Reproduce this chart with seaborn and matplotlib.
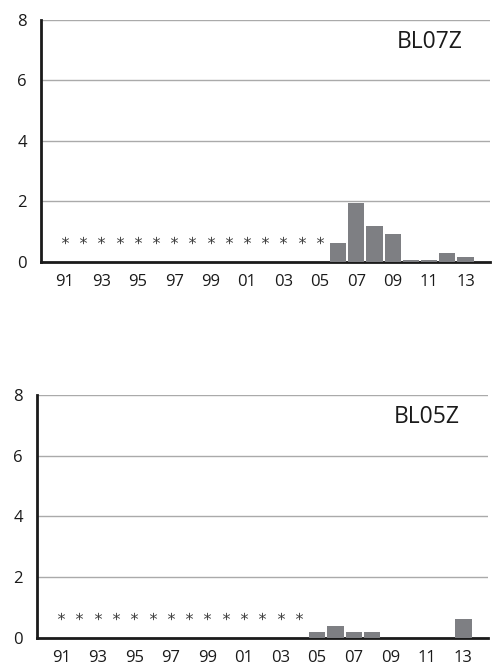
import numpy as np
import matplotlib.pyplot as plt
import seaborn as sns
import pandas as pd

# years 1991-2013, two-digit labels
years = ['91', '92', '93', '94', '95', '96', '97', '98', '99', '00', '01', '02',
         '03', '04', '05', '06', '07', '08', '09', '10', '11', '12', '13']

# BL07Z: no data (asterisk) 91-05
bl07z_missing = years[:15]
bl07z_values = [0, 0, 0, 0, 0, 0, 0, 0, 0, 0, 0, 0, 0, 0, 0,
                0.64, 1.95, 1.18, 0.91, 0.07, 0.07, 0.30, 0.15]

# BL05Z: no data (asterisk) 91-04
bl05z_missing = years[:14]
bl05z_values = [0, 0, 0, 0, 0, 0, 0, 0, 0, 0, 0, 0, 0, 0,
                0.19, 0.39, 0.19, 0.19, 0, 0, 0, 0, 0.61]

star_level = 0.73
bar_color = '#7e7f83'

sns.set_style('white')
plt.rcParams['font.family'] = ['Open Sans', 'DejaVu Sans']

fig = plt.figure(figsize=(4.95, 6.68), dpi=100)
ax_top = fig.add_axes([0.0828, 0.6078, 0.9072, 0.3630])
ax_bot = fig.add_axes([0.0747, 0.0454, 0.9113, 0.3633])

panels = [(ax_top, 'BL07Z', bl07z_values, bl07z_missing, 0.94, 0.908),
          (ax_bot, 'BL05Z', bl05z_values, bl05z_missing, 0.938, 0.91)]

for ax, name, vals, missing, tx, ty in panels:
    df = pd.DataFrame({'year': years, 'value': vals})
    sns.barplot(data=df, x='year', y='value', order=years, color=bar_color,
                saturation=1, width=0.89, linewidth=0, ax=ax, zorder=3)
    pos = [years.index(y) for y in missing]
    sns.scatterplot(x=pos, y=[star_level] * len(pos), marker='$*$', s=28,
                    color='#3a3a3a', linewidth=0, ax=ax, zorder=4)
    ax.set_xlim(-1.32, 23.35)
    ax.set_ylim(0, 8)
    ax.set_yticks([0, 2, 4, 6, 8])
    ax.set_xticks(range(0, len(years), 2))
    ax.set_xticklabels(years[::2])
    ax.set_xlabel('')
    ax.set_ylabel('')
    ax.tick_params(axis='both', length=0, labelsize=12, colors='#1a1a1a')
    ax.tick_params(axis='x', pad=9)
    ax.tick_params(axis='y', pad=10)
    for yv in [2, 4, 6, 8]:
        ax.axhline(yv, color='#aaaaaa', linewidth=1.0, zorder=1)
    for side in ['top', 'right']:
        ax.spines[side].set_visible(False)
    for side in ['left', 'bottom']:
        ax.spines[side].set_linewidth(2.0)
        ax.spines[side].set_color('#1a1a1a')
        ax.spines[side].set_zorder(2)
    ax.text(tx, ty, name, transform=ax.transAxes, ha='right', va='center',
            fontsize=16.5, color='#1a1a1a')

fig.savefig('out.png', dpi=100)
